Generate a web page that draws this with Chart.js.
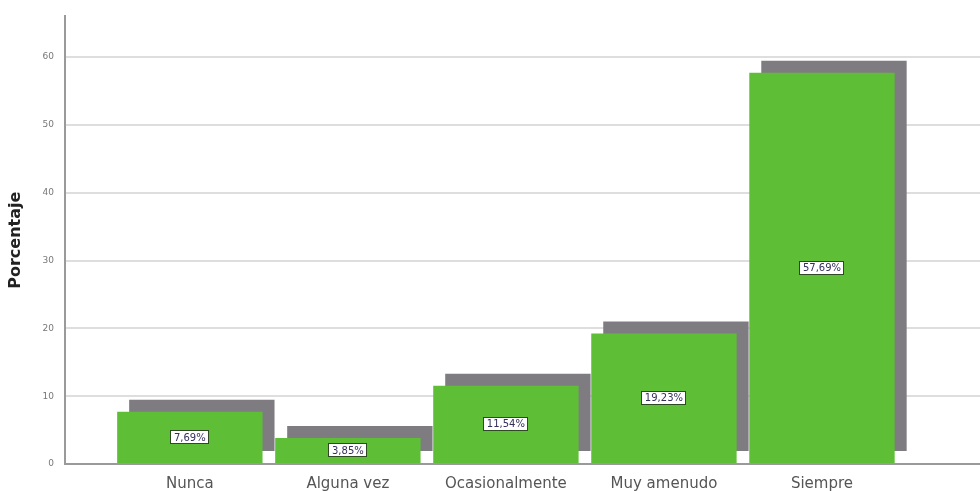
<!DOCTYPE html>
<html>
<head>
<meta charset="utf-8">
<script src="https://cdn.jsdelivr.net/npm/chart.js@4/dist/chart.umd.min.js"></script>
<style>
  html, body { margin: 0; padding: 0; background: #ffffff; }
  #wrap { width: 980px; height: 491px; position: relative; }
</style>
</head>
<body>
<div id="wrap"><canvas id="c"></canvas></div>
<script>
// ---- data ----
const categories = ['Nunca', 'Alguna vez', 'Ocasionalmente', 'Muy amenudo', 'Siempre'];
const percentages = [7.69, 3.85, 11.54, 19.23, 57.69];
const valueLabels = ['7,69%', '3,85%', '11,54%', '19,23%', '57,69%'];
const yTicks = [0, 10, 20, 30, 40, 50, 60];

const points = percentages.map((v, i) => ({ x: i, y: v }));

// drop shadow behind bars (offset right/up, solid grey)
const shadowPlugin = {
  id: 'barShadow',
  beforeDatasetDraw(chart) {
    const ctx = chart.ctx;
    ctx.save();
    ctx.shadowColor = '#7f7c81';
    ctx.shadowOffsetX = 12;
    ctx.shadowOffsetY = -12;
    ctx.shadowBlur = 0;
  },
  afterDatasetDraw(chart) {
    chart.ctx.restore();
  }
};

// boxed value labels in the middle of each bar
const labelPlugin = {
  id: 'boxLabels',
  afterDatasetsDraw(chart) {
    const ctx = chart.ctx;
    const meta = chart.getDatasetMeta(0);
    ctx.save();
    ctx.font = '10px "DejaVu Sans", sans-serif';
    ctx.textAlign = 'center';
    ctx.textBaseline = 'middle';
    meta.data.forEach((el, i) => {
      const txt = valueLabels[i];
      const cx = el.x;
      const cy = (el.y + el.base) / 2;
      const w = ctx.measureText(txt).width + 7;
      const h = 14;
      const x0 = Math.round(cx - w / 2), y0 = Math.round(cy - h / 2);
      ctx.fillStyle = '#ffffff';
      ctx.fillRect(x0, y0, Math.round(w), h);
      ctx.strokeStyle = '#2e4a22';
      ctx.lineWidth = 1;
      ctx.strokeRect(x0 + 0.5, y0 + 0.5, Math.round(w) - 1, h - 1);
      ctx.fillStyle = '#33305a';
      ctx.fillText(txt, cx, cy + 0.5);
    });
    ctx.restore();
  }
};

new Chart(document.getElementById('c'), {
  type: 'bar',
  data: {
    datasets: [{
      data: points,
      backgroundColor: '#5ebf36',
      borderWidth: 0,
      barPercentage: 0.92,
      categoryPercentage: 1.0
    }]
  },
  options: {
    responsive: true,
    maintainAspectRatio: false,
    animation: false,
    layout: { padding: { top: 15, right: 0, left: 0, bottom: 0 } },
    plugins: {
      legend: { display: false },
      tooltip: { enabled: false }
    },
    scales: {
      x: {
        type: 'linear',
        offset: false,
        min: -0.79,
        max: 5.0,
        afterBuildTicks(scale) {
          scale.ticks = categories.map((c, i) => ({ value: i }));
        },
        afterFit(scale) { scale.height = 27; },
        ticks: {
          callback: (v) => categories[v] ?? '',
          color: '#555555',
          font: { family: '"DejaVu Sans", sans-serif', size: 15 },
          padding: 11,
          maxRotation: 0,
          autoSkip: false
        },
        grid: { display: false, drawTicks: false },
        border: { display: true, color: '#9a9a9a', width: 2 }
      },
      y: {
        min: 0,
        max: 66,
        afterBuildTicks(scale) {
          scale.ticks = yTicks.map(v => ({ value: v }));
        },
        afterFit(scale) { scale.width = 65; },
        ticks: {
          color: '#777777',
          font: { family: '"DejaVu Sans", sans-serif', size: 9 },
          padding: 11
        },
        grid: {
          color: (ctx) => ctx.tick && ctx.tick.value === 0 ? 'rgba(0,0,0,0)' : '#dedede',
          lineWidth: 2,
          drawTicks: false
        },
        border: { display: true, color: '#9a9a9a', width: 2 },
        title: {
          display: true,
          text: 'Porcentaje',
          color: '#222222',
          font: { family: '"DejaVu Sans", sans-serif', size: 16, weight: 'bold' },
          padding: { top: 6, bottom: 0 }
        }
      }
    }
  },
  plugins: [shadowPlugin, labelPlugin]
});
</script>
</body>
</html>
